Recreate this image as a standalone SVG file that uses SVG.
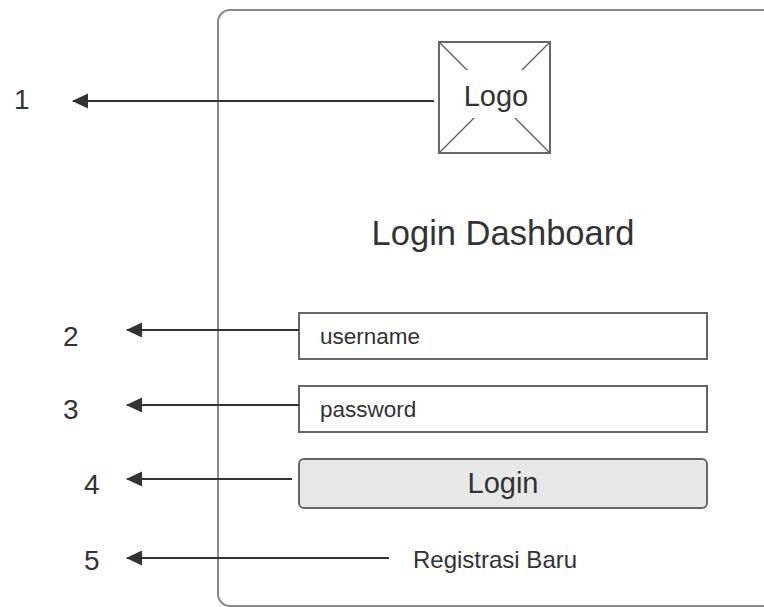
<svg xmlns="http://www.w3.org/2000/svg" width="764" height="607" viewBox="0 0 764 607">
<style>
text{font-family:"Liberation Sans",Arial,sans-serif;fill:#333}
.num{font-size:28px}
.box{fill:#fff;stroke:#666;stroke-width:2}
.conn line{stroke:#333;stroke-width:2}
</style>
<defs>
<marker id="ah" markerWidth="16" markerHeight="16" refX="15" refY="8" orient="auto" markerUnits="userSpaceOnUse" viewBox="0 0 16 16">
<path d="M0,0.5 L16,8 L0,15.5 Z" fill="#333"/>
</marker>
</defs>
<rect width="764" height="607" fill="#fff"/>
<g id="panel"><rect x="218" y="10" width="560" height="596" rx="12" fill="none" stroke="#888" stroke-width="2"/></g>
<g id="logo">
<rect class="box" x="439" y="42" width="111" height="111"/>
<line x1="439" y1="42" x2="550" y2="153" stroke="#666" stroke-width="1.5"/>
<line x1="550" y1="42" x2="439" y2="153" stroke="#666" stroke-width="1.5"/>
<rect x="463" y="70" width="67" height="48" fill="#fff"/>
<text x="496" y="106" font-size="29" text-anchor="middle">Logo</text>
</g>
<g id="title"><text x="503" y="245" font-size="34.5" text-anchor="middle">Login Dashboard</text></g>
<g id="username"><rect class="box" x="299" y="313" width="408" height="46"/><text x="320" y="344" font-size="22.5">username</text></g>
<g id="password"><rect class="box" x="299" y="386" width="408" height="46"/><text x="320" y="417" font-size="22.5">password</text></g>
<g id="login"><rect x="299" y="459" width="408" height="49" rx="5" fill="#e8e8e8" stroke="#666" stroke-width="2"/><text x="503" y="493" font-size="29" text-anchor="middle">Login</text></g>
<g id="register"><text x="413" y="568" font-size="24">Registrasi Baru</text></g>
<g id="labels">
<text class="num" x="14" y="109">1</text>
<text class="num" x="63" y="346">2</text>
<text class="num" x="63" y="419">3</text>
<text class="num" x="84" y="494">4</text>
<text class="num" x="84" y="570">5</text>
</g>
<g class="conn" id="connectors">
<line x1="434" y1="101" x2="73" y2="101" marker-end="url(#ah)"/>
<line x1="299" y1="330" x2="127" y2="330" marker-end="url(#ah)"/>
<line x1="299" y1="405" x2="127" y2="405" marker-end="url(#ah)"/>
<line x1="292" y1="479" x2="127" y2="479" marker-end="url(#ah)"/>
<line x1="389" y1="558" x2="127" y2="558" marker-end="url(#ah)"/>
</g>
</svg>
